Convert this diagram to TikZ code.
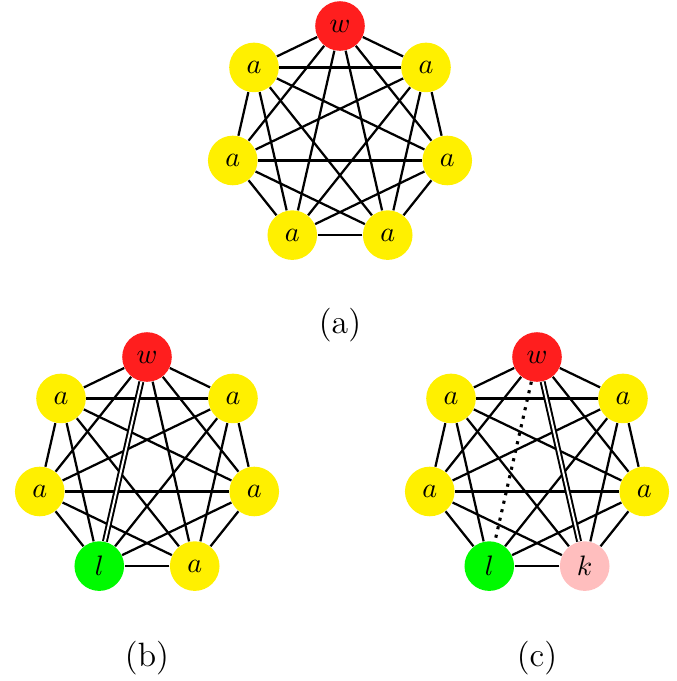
\documentclass[tikz,border=0pt]{standalone}
\usepackage{amssymb}
\usepackage{amsmath}
\usepackage{tikz}
\definecolor{wred}{RGB}{255,30,30}
\definecolor{ayellow}{RGB}{255,240,0}
\definecolor{lgreen}{RGB}{0,250,0}
\definecolor{kpink}{RGB}{255,190,190}
\tikzset{
  vert/.style={circle, minimum size=0.62cm, inner sep=0pt},
  edge/.style={line width=0.8pt},
  dbledge/.style={double, line width=0.7pt, double distance=0.7pt},
  dotedge/.style={dotted, line width=1.1pt}
}

\begin{document}
\begin{tikzpicture}
\useasboundingbox (0,0) rectangle (8.4625,-8.5125);

% (a)
\begin{scope}[shift={(4.25,-1.70)}]
\node[vert,fill=wred] (a0) at (90:1.375) {$w$};
\node[vert,fill=ayellow] (a1) at (38.57:1.375) {$a$};
\node[vert,fill=ayellow] (a2) at (-12.86:1.375) {$a$};
\node[vert,fill=ayellow] (a3) at (-64.29:1.375) {$a$};
\node[vert,fill=ayellow] (a4) at (-115.71:1.375) {$a$};
\node[vert,fill=ayellow] (a5) at (192.86:1.375) {$a$};
\node[vert,fill=ayellow] (a6) at (141.43:1.375) {$a$};
\end{scope}
\foreach \i in {0,...,5}{
  \pgfmathtruncatemacro{\nxt}{\i+1}
  \foreach \j in {\nxt,...,6}{
    \draw[edge] (a\i) -- (a\j);
  }
}
\node (capa) at (4.25,-4.06) {\large (a)};

% (b)
\begin{scope}[shift={(1.8375,-5.8375)}]
\node[vert,fill=wred] (b0) at (90:1.375) {$w$};
\node[vert,fill=ayellow] (b1) at (38.57:1.375) {$a$};
\node[vert,fill=ayellow] (b2) at (-12.86:1.375) {$a$};
\node[vert,fill=ayellow] (b3) at (-64.29:1.375) {$a$};
\node[vert,fill=lgreen] (b4) at (-115.71:1.375) {$l$};
\node[vert,fill=ayellow] (b5) at (192.86:1.375) {$a$};
\node[vert,fill=ayellow] (b6) at (141.43:1.375) {$a$};
\end{scope}
\foreach \i in {1,...,5}{
  \pgfmathtruncatemacro{\nxt}{\i+1}
  \foreach \j in {\nxt,...,6}{
    \draw[edge] (b\i) -- (b\j);
  }
}
\foreach \j in {1,2,3,5,6}
  \draw[edge] (b0) -- (b\j);
\draw[dbledge] (b0) -- (b4);
\node (capb) at (1.8375,-8.225) {\large (b)};

% (c)
\begin{scope}[shift={(6.7125,-5.8375)}]
\node[vert,fill=wred] (c0) at (90:1.375) {$w$};
\node[vert,fill=ayellow] (c1) at (38.57:1.375) {$a$};
\node[vert,fill=ayellow] (c2) at (-12.86:1.375) {$a$};
\node[vert,fill=kpink] (c3) at (-64.29:1.375) {$k$};
\node[vert,fill=lgreen] (c4) at (-115.71:1.375) {$l$};
\node[vert,fill=ayellow] (c5) at (192.86:1.375) {$a$};
\node[vert,fill=ayellow] (c6) at (141.43:1.375) {$a$};
\end{scope}
\foreach \i in {1,...,5}{
  \pgfmathtruncatemacro{\nxt}{\i+1}
  \foreach \j in {\nxt,...,6}{
    \draw[edge] (c\i) -- (c\j);
  }
}
\foreach \j in {1,2,5,6}
  \draw[edge] (c0) -- (c\j);
\draw[dotedge] (c0) -- (c4);
\draw[dbledge] (c0) -- (c3);
\node (capc) at (6.7125,-8.225) {\large (c)};
\end{tikzpicture}
\end{document}
